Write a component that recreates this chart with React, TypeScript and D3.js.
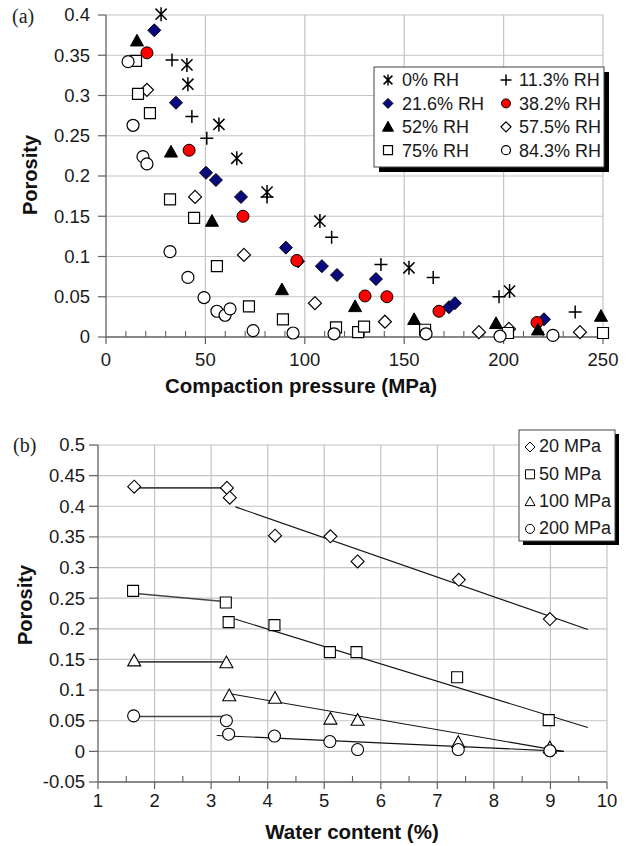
import React from 'react';
import * as d3 from 'd3';

type P = [number, number];

// ---------- Chart (a): porosity vs compaction pressure ----------
const rh0: P[] = [[27.7,0.401],[40.7,0.338],[41.2,0.314],[56.8,0.264],[65.8,0.222],[81,0.180],[107.6,0.144],[152.4,0.086],[203,0.057]];
const rh11: P[] = [[33.2,0.344],[43.2,0.274],[50.7,0.247],[81,0.174],[113.5,0.124],[138.3,0.090],[164.6,0.074],[197.7,0.050],[236,0.031]];
const rh21: P[] = [[24.3,0.381],[35.2,0.291],[50.3,0.204],[55.3,0.195],[67.9,0.174],[90.5,0.111],[96.6,0.094],[108.6,0.088],[116.2,0.077],[135.8,0.072],[172.5,0.037],[175.5,0.042],[220.3,0.022]];
const rh38: P[] = [[20.6,0.353],[41.8,0.232],[68.9,0.150],[96,0.095],[130.3,0.051],[141.3,0.050],[167.5,0.032],[216.8,0.018]];
const rh52: P[] = [[15.6,0.368],[32.7,0.230],[53.3,0.144],[88.5,0.059],[125.3,0.038],[155,0.022],[196.2,0.017],[217.3,0.009],[249,0.026]];
const rh57: P[] = [[20.6,0.307],[44.8,0.174],[69.4,0.102],[105.1,0.042],[140.3,0.019],[187.6,0.006],[202.7,0.010],[238.4,0.006]];
const rh75: P[] = [[15.1,0.343],[16.1,0.302],[22.1,0.278],[32.2,0.171],[44.3,0.148],[55.8,0.088],[71.9,0.038],[89,0.022],[115.7,0.012],[126.8,0.006],[129.8,0.013],[160.5,0.009],[202.2,0.005],[250,0.005]];
const rh84: P[] = [[11.1,0.342],[13.6,0.263],[18.6,0.224],[20.6,0.215],[32.2,0.106],[41.2,0.074],[49.3,0.049],[55.8,0.032],[59.9,0.027],[62.4,0.035],[74,0.008],[94.1,0.005],[114.7,0.004],[161,0.004],[198.2,0.001],[224.8,0.002]];

const topLabels = ['0% RH','11.3% RH','21.6% RH','38.2% RH','52% RH','57.5% RH','75% RH','84.3% RH'];
const topXTicks = [0,50,100,150,200,250];
const topYTicks = [0,0.05,0.1,0.15,0.2,0.25,0.3,0.35,0.4];

// ---------- Chart (b): porosity vs water content ----------
const mpa20: P[] = [[1.64,0.432],[3.28,0.430],[3.33,0.414],[4.13,0.352],[5.11,0.351],[5.59,0.310],[7.38,0.280],[8.99,0.216]];
const mpa50: P[] = [[1.62,0.262],[3.26,0.243],[3.31,0.211],[4.12,0.206],[5.10,0.162],[5.57,0.162],[7.35,0.121],[8.97,0.051]];
const mpa100: P[] = [[1.64,0.148],[3.27,0.145],[3.32,0.091],[4.13,0.087],[5.11,0.053],[5.59,0.051],[7.37,0.015],[8.99,0.006]];
const mpa200: P[] = [[1.63,0.058],[3.27,0.050],[3.31,0.028],[4.12,0.025],[5.10,0.016],[5.59,0.003],[7.37,0.003],[8.99,0.001]];

const fit20a: P[] = [[1.64,0.430],[3.28,0.430]];
const fit20b: P[] = [[3.43,0.399],[9.66,0.199]];
const fit50a: P[] = [[1.62,0.258],[3.18,0.245]];
const fit50b: P[] = [[3.42,0.216],[9.66,0.039]];
const fit100a: P[] = [[1.64,0.146],[3.27,0.146]];
const fit100b: P[] = [[3.33,0.094],[9.22,0.0]];
const fit200a: P[] = [[1.63,0.057],[3.27,0.057]];
const fit200b: P[] = [[3.10,0.026],[9.24,0.0]];

const botLabels = ['20 MPa','50 MPa','100 MPa','200 MPa'];
const botXTicks = [1,2,3,4,5,6,7,8,9,10];
const botYTicks = [-0.05,0,0.05,0.1,0.15,0.2,0.25,0.3,0.35,0.4,0.45,0.5];

// ---------- styles ----------
const SANS = '"Liberation Sans", Arial, Helvetica, sans-serif';
const SERIF = '"Liberation Serif", "Times New Roman", serif';
const GRID = '#c4c4c4';
const AXIS = '#606060';

type Shape = 'asterisk' | 'plus' | 'diamond' | 'circle' | 'triangle' | 'square' | 'otriangle';

function markerPath(shape: Shape, x: number, y: number, s: number): string {
  switch (shape) {
    case 'diamond':
      return `M${x},${y - s}L${x + s},${y}L${x},${y + s}L${x - s},${y}Z`;
    case 'square':
      return `M${x - s},${y - s}h${2 * s}v${2 * s}h${-2 * s}Z`;
    case 'triangle':
    case 'otriangle':
      return `M${x},${y - s}L${x + s},${y + s * 0.8}L${x - s},${y + s * 0.8}Z`;
    case 'circle':
      return `M${x - s},${y}a${s},${s} 0 1,0 ${2 * s},0a${s},${s} 0 1,0 ${-2 * s},0Z`;
    case 'plus':
      return `M${x - s},${y}h${2 * s}M${x},${y - s}v${2 * s}`;
    case 'asterisk': {
      const d = s * 0.8;
      return `M${x - d},${y - d}L${x + d},${y + d}M${x + d},${y - d}L${x - d},${y + d}M${x},${y - s}v${2 * s}`;
    }
  }
  return '';
}

interface Style { shape: Shape; fill: string; size: number; lsize: number; sw: number; }

const topStyles: Style[] = [
  { shape: 'asterisk', fill: 'none', size: 7, lsize: 5.5, sw: 1.5 },
  { shape: 'plus', fill: 'none', size: 6.5, lsize: 5.5, sw: 1.5 },
  { shape: 'diamond', fill: '#0a0a80', size: 6.5, lsize: 5, sw: 1 },
  { shape: 'circle', fill: '#ff0000', size: 6, lsize: 4.5, sw: 1 },
  { shape: 'triangle', fill: '#000000', size: 6.5, lsize: 5.5, sw: 1 },
  { shape: 'diamond', fill: '#ffffff', size: 6.5, lsize: 5, sw: 1.2 },
  { shape: 'square', fill: '#ffffff', size: 5.5, lsize: 4.5, sw: 1.2 },
  { shape: 'circle', fill: '#ffffff', size: 6, lsize: 4.5, sw: 1.2 },
];
const topSeries: P[][] = [rh0, rh11, rh21, rh38, rh52, rh57, rh75, rh84];

const botStyles: Style[] = [
  { shape: 'diamond', fill: '#ffffff', size: 6.5, lsize: 5, sw: 1.1 },
  { shape: 'square', fill: '#ffffff', size: 5.5, lsize: 4.5, sw: 1.1 },
  { shape: 'otriangle', fill: '#ffffff', size: 6.5, lsize: 5, sw: 1.1 },
  { shape: 'circle', fill: '#ffffff', size: 6, lsize: 4.5, sw: 1.1 },
];
const botSeries: P[][] = [mpa20, mpa50, mpa100, mpa200];
const botFitsFlat: P[][] = [fit20a, fit50a, fit100a, fit200a];
const botFitsSlope: P[][] = [fit20b, fit50b, fit100b, fit200b];

const fmt = (v: number) => {
  const r = Math.round(v * 100) / 100;
  return String(r);
};

function ChartA() {
  const x = d3.scaleLinear().domain([0, 250]).range([106, 603]);
  const y = d3.scaleLinear().domain([0, 0.4]).range([337, 15]);
  const minor = d3.range(0, 251, 10).filter((v) => v % 50 !== 0);
  const legX = 374, legY = 67, legW = 230, legH = 100;
  const rowY = (i: number) => 80 + i * 23.4;
  return (
    <g>
      {topYTicks.filter((v) => v > 0).map((v) => (
        <line key={'gy' + v} x1={x(0)} x2={x(250)} y1={y(v)} y2={y(v)} stroke={GRID} strokeWidth={1.2} />
      ))}
      {topXTicks.filter((v) => v > 0).map((v) => (
        <line key={'gx' + v} x1={x(v)} x2={x(v)} y1={y(0)} y2={y(0.4)} stroke={GRID} strokeWidth={1.2} />
      ))}
      {/* axes */}
      <line x1={x(0)} x2={x(0)} y1={y(0)} y2={y(0.4)} stroke={AXIS} strokeWidth={1.3} />
      <line x1={x(0)} x2={x(250)} y1={y(0)} y2={y(0)} stroke={AXIS} strokeWidth={1.3} />
      {topYTicks.map((v) => (
        <g key={'ty' + v}>
          <line x1={x(0) - 8} x2={x(0)} y1={y(v)} y2={y(v)} stroke={AXIS} strokeWidth={1.2} />
          <text x={90} y={y(v) + 6.4} textAnchor="end" fontFamily={SANS} fontSize={18.5} fill="#1a1a1a">{fmt(v)}</text>
        </g>
      ))}
      {topXTicks.map((v) => (
        <g key={'tx' + v}>
          <line x1={x(v)} x2={x(v)} y1={y(0)} y2={y(0) + 7} stroke={AXIS} strokeWidth={1.2} />
          <text x={x(v)} y={366} textAnchor="middle" fontFamily={SANS} fontSize={18.5} fill="#1a1a1a">{v}</text>
        </g>
      ))}
      {minor.map((v) => (
        <line key={'mx' + v} x1={x(v)} x2={x(v)} y1={y(0)} y2={y(0) - 6} stroke={AXIS} strokeWidth={1.1} />
      ))}
      {/* points */}
      {topSeries.map((ser, si) => (
        <g key={'s' + si}>
          {ser.map((p, pi) => (
            <path key={pi} d={markerPath(topStyles[si].shape, x(p[0]), y(p[1]), topStyles[si].size)}
              fill={topStyles[si].fill} stroke="#000" strokeWidth={topStyles[si].sw} />
          ))}
        </g>
      ))}
      {/* legend */}
      <rect x={legX + 5} y={legY + 5} width={legW} height={legH} fill="#000" />
      <rect x={legX} y={legY} width={legW} height={legH} fill="#fff" stroke="#444" strokeWidth={1} />
      {topLabels.map((lab, i) => {
        const col = i % 2, row = Math.floor(i / 2);
        const mx = col === 0 ? 388 : 506;
        const tx = col === 0 ? 402 : 519;
        const st = topStyles[i];
        return (
          <g key={'l' + i}>
            <path d={markerPath(st.shape, mx, rowY(row), st.lsize)} fill={st.fill} stroke="#000" strokeWidth={st.sw} />
            <text x={tx} y={rowY(row) + 6.4} fontFamily={SANS} fontSize={18} fill="#1a1a1a">{lab}</text>
          </g>
        );
      })}
      {/* titles */}
      <text x={301} y={393} textAnchor="middle" fontFamily={SANS} fontSize={20.5} fontWeight="bold" fill="#111">Compaction pressure (MPa)</text>
      <text transform="translate(37,175) rotate(-90)" textAnchor="middle" fontFamily={SANS} fontSize={20} fontWeight="bold" fill="#111">Porosity</text>
      <text x={12} y={23} fontFamily={SERIF} fontSize={20} fill="#222">(a)</text>
    </g>
  );
}

function ChartB() {
  const x = d3.scaleLinear().domain([1, 10]).range([98, 607]);
  const y = d3.scaleLinear().domain([-0.05, 0.5]).range([782, 445]);
  const line = d3.line<P>().x((d) => x(d[0])).y((d) => y(d[1]));
  const minor = d3.range(1.5, 10, 1);
  const legX = 519, legY = 430, legW = 96, legH = 111;
  const rowY = (i: number) => 446 + i * 27.3;
  return (
    <g>
      {botYTicks.filter((v) => v > -0.05).map((v) => (
        <line key={'gy' + v} x1={x(1)} x2={x(10)} y1={y(v)} y2={y(v)} stroke={GRID} strokeWidth={1.2} />
      ))}
      {botXTicks.filter((v) => v > 1).map((v) => (
        <line key={'gx' + v} x1={x(v)} x2={x(v)} y1={y(-0.05)} y2={y(0.5)} stroke={GRID} strokeWidth={1.2} />
      ))}
      <line x1={x(1)} x2={x(1)} y1={y(-0.05)} y2={y(0.5)} stroke={AXIS} strokeWidth={1.3} />
      <line x1={x(1)} x2={x(10)} y1={y(-0.05)} y2={y(-0.05)} stroke={AXIS} strokeWidth={1.3} />
      {botYTicks.map((v) => (
        <g key={'ty' + v}>
          <line x1={x(1) - 9} x2={x(1)} y1={y(v)} y2={y(v)} stroke={AXIS} strokeWidth={1.2} />
          <text x={85} y={y(v) + 6.4} textAnchor="end" fontFamily={SANS} fontSize={18.5} fill="#1a1a1a">{fmt(v)}</text>
        </g>
      ))}
      {botXTicks.map((v) => (
        <g key={'tx' + v}>
          <line x1={x(v)} x2={x(v)} y1={y(-0.05)} y2={y(-0.05) + 7} stroke={AXIS} strokeWidth={1.2} />
          <text x={x(v)} y={807} textAnchor="middle" fontFamily={SANS} fontSize={18.5} fill="#1a1a1a">{v}</text>
        </g>
      ))}
      {minor.map((v) => (
        <line key={'mx' + v} x1={x(v)} x2={x(v)} y1={y(-0.05)} y2={y(-0.05) - 6} stroke={AXIS} strokeWidth={1.1} />
      ))}
      {/* fit lines */}
      {botFitsFlat.map((f, i) => (
        <path key={'fa' + i} d={line(f) || ''} fill="none" stroke="#444" strokeWidth={1.6} />
      ))}
      {botFitsSlope.map((f, i) => (
        <path key={'fb' + i} d={line(f) || ''} fill="none" stroke="#111" strokeWidth={1.1} />
      ))}
      {botSeries.map((ser, si) => (
        <g key={'s' + si}>
          {ser.map((p, pi) => (
            <path key={pi} d={markerPath(botStyles[si].shape, x(p[0]), y(p[1]), botStyles[si].size)}
              fill={botStyles[si].fill} stroke="#000" strokeWidth={botStyles[si].sw} />
          ))}
        </g>
      ))}
      {/* legend */}
      <defs>
        <clipPath id="legclipb"><rect x={legX} y={legY} width={legW} height={legH} /></clipPath>
      </defs>
      <rect x={legX + 4} y={legY + 4} width={legW} height={legH} fill="#000" />
      <rect x={legX} y={legY} width={legW} height={legH} fill="#fff" stroke="#444" strokeWidth={1} />
      <g clipPath="url(#legclipb)">
        {botLabels.map((lab, i) => {
          const st = botStyles[i];
          return (
            <g key={'l' + i}>
              <path d={markerPath(st.shape, 530, rowY(i) + 1, st.lsize)} fill={st.fill} stroke="#000" strokeWidth={1} />
              <text x={539} y={rowY(i) + 6.4} fontFamily={SANS} fontSize={18} fill="#1a1a1a">{lab}</text>
            </g>
          );
        })}
      </g>
      <text x={352} y={839} textAnchor="middle" fontFamily={SANS} fontSize={20.5} fontWeight="bold" fill="#111">Water content (%)</text>
      <text transform="translate(32,605) rotate(-90)" textAnchor="middle" fontFamily={SANS} fontSize={20} fontWeight="bold" fill="#111">Porosity</text>
      <text x={13} y={452} fontFamily={SERIF} fontSize={20} fill="#222">(b)</text>
    </g>
  );
}

export default function App() {
  return (
    <svg width={629} height={846} viewBox="0 0 629 846" style={{ position: 'absolute', left: 0, top: 0, background: '#fff' }}>
      <rect x={0} y={0} width={629} height={846} fill="#fff" />
      <ChartA />
      <ChartB />
    </svg>
  );
}
